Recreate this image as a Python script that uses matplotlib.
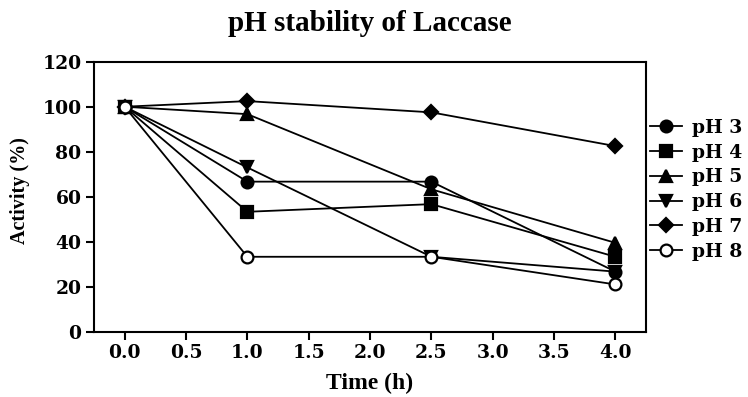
import matplotlib
matplotlib.use('Agg')
import matplotlib.pyplot as plt

# data
time_h = [0.0, 1.0, 2.5, 4.0]
ph3 = [100, 66.7, 66.7, 26.7]
ph4 = [100, 53.3, 56.7, 33.3]
ph5 = [100, 96.7, 63.3, 39.5]
ph6 = [100, 73.0, 33.3, 26.7]
ph7 = [100, 102.5, 97.5, 82.5]
ph8 = [100, 33.3, 33.3, 21.0]
labels = ['pH 3', 'pH 4', 'pH 5', 'pH 6', 'pH 7', 'pH 8']
xticks = [0.0, 0.5, 1.0, 1.5, 2.0, 2.5, 3.0, 3.5, 4.0]
yticks = [0, 20, 40, 60, 80, 100, 120]

series = [ph3, ph4, ph5, ph6, ph7, ph8]
markers = ['o', 's', '^', 'v', 'D', 'o']
mfill = ['k', 'k', 'k', 'k', 'k', 'white']
msize = [8.5, 8.5, 9, 9, 7.5, 8.5]

serif = ['Liberation Serif', 'DejaVu Serif']
wide = ['DejaVu Serif']

fig = plt.figure(figsize=(7.48, 3.97), dpi=100)
ax = fig.add_axes([0.1257, 0.1645, 0.738, 0.680])

for vals, m, fc, ms, lab in zip(series, markers, mfill, msize, labels):
    ax.plot(time_h, vals, color='k', lw=1.3, marker=m, markersize=ms,
            markerfacecolor=fc, markeredgecolor='k', markeredgewidth=1.6,
            label=lab)

ax.set_xlim(-0.25, 4.25)
ax.set_ylim(0, 120)
ax.set_xticks(xticks)
ax.set_xticklabels(['%.1f' % t for t in xticks])
ax.set_yticks(yticks)
ax.set_yticklabels([str(t) for t in yticks])
for s in ax.spines.values():
    s.set_linewidth(1.5)
ax.tick_params(direction='out', length=6, width=1.5, pad=3)
for lab in ax.get_xticklabels() + ax.get_yticklabels():
    lab.set_family(wide)
    lab.set_fontweight('bold')
    lab.set_fontsize(13.5)

fig.text(0.495, 0.940, 'pH stability of Laccase', ha='center', va='center',
         family=serif, fontweight='bold', fontsize=21)
fig.text(370 / 748, 1 - 383 / 397, 'Time (h)', ha='center', va='center',
         family=serif, fontweight='bold', fontsize=17)
fig.text(0.027, 0.52, 'Activity (%)', rotation=90, ha='center', va='center',
         family=serif, fontweight='bold', fontsize=14.5)

leg = ax.legend(loc='upper left', bbox_to_anchor=(650 / 748, 1 - 119 / 397),
                bbox_transform=fig.transFigure, frameon=False, borderpad=0,
                borderaxespad=0, handlelength=1.7, handletextpad=0.55,
                labelspacing=0.36, prop={'family': wide, 'weight': 'bold', 'size': 13.5})

fig.savefig('out.png', dpi=100)
